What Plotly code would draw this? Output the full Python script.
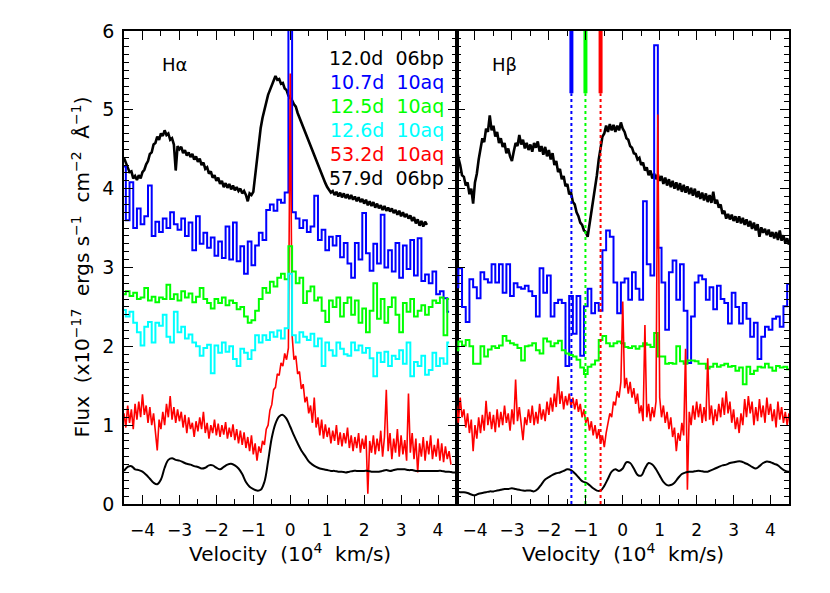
import numpy as np
import plotly.graph_objects as go

# ---------------- data (velocity in 1e4 km/s, flux in 1e-17 erg/s/cm2/A) ----------------
# Left panel: H-alpha
ha_start_fine, ha_step_fine = -4.50, 0.05
ha_start_bin, ha_step_bin = -4.5, 0.1

ha_06bp_12d = [
    4.39, 4.33, 4.28, 4.21, 4.22, 4.13, 4.16, 4.11, 4.17, 4.13,
    4.21, 4.24, 4.31, 4.35, 4.44, 4.46, 4.56, 4.58, 4.66, 4.62,
    4.70, 4.67, 4.74, 4.68, 4.70, 4.62, 4.64, 4.56, 4.23, 4.54,
    4.50, 4.53, 4.45, 4.49, 4.42, 4.46, 4.40, 4.44, 4.37, 4.41,
    4.34, 4.38, 4.30, 4.33, 4.25, 4.27, 4.19, 4.22, 4.14, 4.17,
    4.10, 4.14, 4.06, 4.10, 4.02, 4.07, 4.01, 4.06, 3.99, 4.04,
    3.98, 4.02, 3.97, 4.00, 3.94, 3.97, 3.92, 3.84, 3.94, 3.92,
    3.96, 4.17, 4.41, 4.61, 4.77, 4.90, 5.00, 5.10, 5.19, 5.25,
    5.32, 5.36, 5.43, 5.38, 5.39, 5.33, 5.34, 5.27, 5.25, 5.18,
    5.15, 5.12, 5.07, 5.04, 4.96, 4.90, 4.83, 4.78, 4.72, 4.67,
    4.60, 4.55, 4.48, 4.42, 4.35, 4.30, 4.23, 4.17, 4.11, 4.07,
    4.02, 3.99, 3.95, 3.97, 3.92, 3.96, 3.90, 3.95, 3.89, 3.94,
    3.88, 3.93, 3.87, 3.92, 3.86, 3.90, 3.84, 3.89, 3.83, 3.87,
    3.81, 3.86, 3.79, 3.84, 3.78, 3.83, 3.76, 3.81, 3.75, 3.79,
    3.73, 3.78, 3.72, 3.76, 3.71, 3.75, 3.69, 3.73, 3.67, 3.72,
    3.65, 3.70, 3.64, 3.68, 3.62, 3.66, 3.59, 3.64, 3.56, 3.61,
    3.53, 3.59, 3.52, 3.58, 3.54,
]
ha_10aq_107d = [
    4.28, 3.60, 4.08, 3.50, 3.75, 3.55, 3.65, 4.04, 3.40, 3.58,
    3.45, 3.62, 3.50, 3.70, 3.55, 3.48, 3.62, 3.40, 3.57, 3.22,
    3.65, 3.30, 3.44, 3.25, 3.38, 3.15, 3.33, 3.12, 3.52, 3.10,
    3.57, 3.08, 3.27, 2.92, 3.33, 3.03, 3.28, 3.44, 3.35, 3.73,
    3.80, 3.72, 3.86, 3.82, 3.95, 6.30, 3.70, 3.62, 3.50, 3.60,
    3.45, 3.52, 3.91, 3.35, 3.48, 3.22, 3.39, 3.28, 3.40, 3.13,
    3.31, 3.05, 2.87, 3.31, 3.10, 3.69, 3.18, 2.96, 3.30, 3.05,
    3.67, 3.00, 3.22, 2.95, 3.31, 2.87, 3.28, 2.98, 3.35, 2.90,
    3.37, 2.83, 2.91, 2.80, 2.95, 2.66, 2.70, 2.61, 2.44,
]
ha_10aq_125d = [
    2.66, 2.70, 2.64, 2.68, 2.60, 2.62, 2.74, 2.58, 2.63, 2.56,
    2.62, 2.60, 2.78, 2.60, 2.66, 2.58, 2.70, 2.62, 2.67, 2.56,
    2.63, 2.74, 2.60, 2.55, 2.48, 2.60, 2.55, 2.62, 2.52, 2.58,
    2.55, 2.47, 2.50, 2.38, 2.30, 2.33, 2.45, 2.60, 2.74, 2.68,
    2.82, 2.76, 2.87, 2.92, 2.85, 3.27, 2.95, 2.80, 2.87, 2.55,
    2.70, 2.76, 2.58, 2.62, 2.45, 2.31, 2.58, 2.50, 2.62, 2.38,
    2.55, 2.62, 2.40, 2.58, 2.30, 2.48, 2.18, 2.45, 2.80, 2.35,
    2.60, 2.30, 2.50, 2.62, 2.40, 2.18, 2.55, 2.44, 2.60, 2.38,
    2.45, 2.52, 2.40, 2.50, 2.58, 2.55, 2.62, 2.14, 2.60,
]
ha_10aq_126d = [
    2.46, 2.38, 2.44, 2.30, 2.18, 2.01, 2.25, 2.31, 2.05, 2.30,
    2.26, 2.40, 2.12, 2.05, 2.44, 2.18, 2.25, 2.10, 2.15, 2.05,
    2.00, 1.88, 1.98, 2.02, 1.66, 2.01, 1.92, 2.05, 1.93, 2.00,
    1.84, 1.75, 1.97, 1.92, 1.84, 1.95, 2.14, 2.05, 2.14, 2.08,
    2.18, 2.12, 2.20, 2.10, 2.23, 2.92, 2.14, 2.05, 2.18, 2.12,
    2.08, 2.16, 2.00, 2.10, 1.75, 2.05, 1.95, 1.88, 2.05, 1.97,
    1.90, 1.88, 2.05, 1.95, 2.01, 1.92, 1.98, 1.85, 1.62, 1.92,
    1.80, 1.93, 1.75, 1.88, 1.84, 1.95, 1.78, 2.05, 1.62, 1.80,
    1.75, 1.88, 1.64, 1.70, 1.92, 1.75, 1.85, 1.78, 2.05,
]
ha_10aq_532d = [
    1.15, 0.97, 1.25, 1.03, 1.20, 0.95, 1.27, 1.07, 1.30, 1.10,
    1.39, 1.13, 1.25, 1.03, 1.23, 1.00, 1.15, 0.93, 0.68, 1.07,
    0.95, 1.17, 1.00, 1.27, 1.10, 1.37, 1.07, 1.23, 1.03, 1.20,
    1.05, 1.17, 0.97, 1.13, 0.90, 1.10, 0.95, 1.03, 0.85, 1.05,
    0.92, 1.10, 0.95, 1.17, 0.90, 1.03, 0.83, 1.00, 0.90, 1.07,
    0.87, 1.02, 0.85, 1.00, 0.88, 1.04, 0.83, 0.97, 0.85, 1.01,
    0.81, 0.95, 0.77, 0.93, 0.75, 0.91, 0.71, 0.85, 0.67, 0.87,
    0.63, 0.77, 0.55, 0.73, 0.65, 0.80, 0.75, 0.95, 1.00, 1.19,
    1.26, 1.45, 1.48, 1.65, 1.63, 1.79, 1.75, 1.91, 1.83, 1.98,
    5.46, 2.14, 1.83, 1.88, 1.65, 1.68, 1.46, 1.52, 1.29, 1.36,
    1.15, 1.25, 1.03, 1.35, 0.97, 1.10, 0.87, 1.07, 0.83, 1.01,
    0.85, 0.97, 0.77, 0.93, 0.80, 1.00, 0.75, 0.91, 0.73, 0.90,
    0.77, 0.97, 0.71, 0.87, 0.67, 0.85, 0.71, 0.90, 0.65, 0.83,
    0.70, 0.87, 0.13, 0.80, 0.65, 0.87, 0.63, 0.83, 0.67, 0.93,
    0.60, 0.85, 1.45, 0.67, 0.90, 0.57, 0.83, 0.65, 0.95, 0.60,
    0.87, 0.63, 0.81, 0.55, 1.40, 0.65, 0.90, 0.57, 0.83, 0.40,
    0.77, 0.60, 0.85, 0.55, 0.80, 0.63, 0.87, 0.57, 0.75, 0.60,
    0.83, 0.55, 0.77, 0.53, 0.73, 0.57, 0.67, 0.50,
]
ha_06bp_579d = [
    0.42, 0.47, 0.48, 0.44, 0.43, 0.41, 0.37, 0.32, 0.27, 0.25,
    0.31, 0.46, 0.56, 0.58, 0.56, 0.55, 0.53, 0.51, 0.50, 0.48,
    0.47, 0.45, 0.46, 0.49, 0.49, 0.46, 0.44, 0.47, 0.50, 0.51,
    0.49, 0.45, 0.38, 0.28, 0.22, 0.19, 0.17, 0.18, 0.28, 0.54,
    0.84, 1.02, 1.11, 1.13, 1.08, 0.98, 0.87, 0.77, 0.68, 0.61,
    0.54, 0.50, 0.47, 0.45, 0.44, 0.43, 0.42, 0.42, 0.41, 0.41,
    0.40, 0.41, 0.42, 0.42, 0.42, 0.42, 0.42, 0.41, 0.41, 0.41,
    0.42, 0.43, 0.42, 0.43, 0.44, 0.44, 0.44, 0.43, 0.43, 0.42,
    0.42, 0.42, 0.42, 0.42, 0.42, 0.42, 0.42, 0.41, 0.41, 0.40,
    0.40,
]

# Right panel: H-beta
hb_06bp_12d = [
    4.56, 4.39, 4.30, 4.17, 4.15, 4.04, 4.08, 3.93, 4.00, 3.81,
    4.08, 4.19, 4.37, 4.49, 4.64, 4.59, 4.76, 4.72, 4.93, 4.74,
    4.80, 4.66, 4.72, 4.58, 4.64, 4.53, 4.58, 4.45, 4.51, 4.41,
    4.35, 4.47, 4.58, 4.54, 4.68, 4.56, 4.62, 4.51, 4.58, 4.49,
    4.56, 4.47, 4.58, 4.52, 4.60, 4.47, 4.54, 4.43, 4.53, 4.41,
    4.49, 4.37, 4.45, 4.30, 4.35, 4.21, 4.25, 4.12, 4.16, 4.03,
    4.06, 3.93, 3.95, 3.83, 3.80, 3.70, 3.65, 3.57, 3.54, 3.47,
    3.45, 3.39, 3.54, 3.67, 3.83, 4.00, 4.17, 4.37, 4.52, 4.66,
    4.70, 4.80, 4.72, 4.82, 4.74, 4.81, 4.72, 4.80, 4.74, 4.84,
    4.76, 4.72, 4.64, 4.62, 4.54, 4.52, 4.45, 4.44, 4.37, 4.39,
    4.30, 4.33, 4.23, 4.27, 4.17, 4.23, 4.13, 4.19, 4.12, 4.18,
    4.10, 4.16, 4.06, 4.14, 4.04, 4.12, 4.02, 4.10, 4.00, 4.08,
    3.98, 4.07, 3.96, 4.05, 3.95, 4.03, 3.93, 4.01, 3.91, 4.00,
    3.89, 3.97, 3.87, 3.95, 3.85, 3.94, 3.83, 3.92, 3.82, 3.96,
    3.81, 3.86, 3.76, 3.80, 3.68, 3.72, 3.62, 3.68, 3.61, 3.67,
    3.59, 3.65, 3.57, 3.65, 3.56, 3.63, 3.54, 3.61, 3.52, 3.59,
    3.49, 3.57, 3.47, 3.55, 3.39, 3.51, 3.44, 3.49, 3.41, 3.48,
    3.39, 3.45, 3.37, 3.45, 3.35, 3.47, 3.34, 3.41, 3.31, 3.37,
    3.29,
]
hb_10aq_107d = [
    2.75, 2.99, 2.50, 2.31, 2.85, 2.75, 2.61, 2.94, 2.85, 2.81,
    3.04, 2.81, 3.04, 2.68, 3.04, 2.64, 2.80, 2.75, 2.73, 2.77,
    2.70, 2.64, 2.38, 2.99, 2.68, 2.90, 2.38, 2.55, 2.59, 2.55,
    1.75, 2.64, 2.16, 2.64, 1.88, 2.51, 2.73, 2.42, 2.55, 2.45,
    3.22, 3.47, 3.39, 2.81, 2.42, 2.81, 2.86, 2.59, 2.94, 2.73,
    2.59, 3.84, 3.04, 2.90, 5.82, 3.25, 2.81, 2.21, 2.94, 3.09,
    2.59, 3.04, 2.45, 1.79, 2.38, 2.81, 2.90, 2.85, 2.59, 2.75,
    2.47, 2.77, 2.60, 2.55, 2.29, 2.68, 2.50, 2.29, 2.55, 2.35,
    2.12, 2.30, 1.84, 2.12, 2.25, 2.21, 2.35, 2.38, 2.25, 2.51,
    2.79,
]
hb_10aq_125d = [
    1.95, 2.06, 2.01, 2.08, 2.00, 1.78, 1.78, 2.00, 1.87, 1.96,
    2.00, 1.98, 2.01, 2.13, 2.07, 2.04, 2.02, 1.98, 1.82, 2.00,
    2.01, 2.04, 1.95, 1.91, 2.10, 2.06, 2.00, 2.04, 2.07, 1.95,
    1.91, 1.89, 1.87, 1.83, 1.73, 1.65, 1.74, 1.77, 1.82, 2.08,
    2.13, 2.04, 2.00, 2.04, 2.06, 2.04, 1.99, 1.98, 2.00, 1.97,
    2.00, 2.04, 2.02, 1.99, 2.17, 1.87, 1.87, 1.78, 1.79, 1.78,
    2.00, 1.81, 1.78, 1.82, 1.82, 1.81, 1.78, 1.78, 1.72, 1.74,
    1.78, 1.74, 1.76, 1.78, 1.74, 1.75, 1.69, 1.73, 1.52, 1.74,
    1.65, 1.69, 1.74, 1.73, 1.78, 1.73, 1.69, 1.75, 1.73, 1.74,
    1.71,
]
hb_10aq_532d = [
    1.25, 1.03, 1.35, 1.10, 1.20, 0.97, 1.15, 0.90, 1.07, 0.67,
    1.00, 0.83, 1.10, 0.90, 1.13, 0.93, 1.31, 1.00, 1.17, 0.95,
    1.13, 0.91, 1.20, 0.97, 1.17, 1.00, 1.25, 1.03, 1.15, 0.93,
    1.20, 1.01, 1.58, 1.05, 1.23, 0.97, 0.81, 1.10, 1.00, 1.20,
    1.03, 1.25, 1.00, 1.17, 1.02, 1.27, 1.07, 1.20, 1.05, 1.30,
    1.13, 1.35, 1.17, 1.40, 1.23, 1.62, 1.27, 1.43, 1.20, 1.37,
    1.25, 1.40, 1.23, 1.35, 1.20, 1.33, 1.17, 1.27, 1.10, 1.20,
    1.03, 1.10, 0.93, 1.05, 0.87, 1.00, 0.83, 0.95, 0.77, 0.87,
    0.72, 0.90, 1.03, 1.15, 1.10, 1.30, 1.25, 1.43, 1.35, 1.55,
    2.57, 1.47, 1.60, 1.40, 1.55, 1.35, 1.47, 1.27, 1.40, 1.15,
    1.25, 1.05, 2.27, 1.10, 1.27, 1.05, 1.23, 1.10, 1.30, 4.94,
    1.35, 1.10, 1.25, 1.03, 1.17, 0.95, 1.10, 0.85, 0.97, 0.67,
    0.90, 0.80, 1.03, 0.87, 1.97, 0.18, 1.17, 1.00, 1.25, 1.07,
    1.30, 1.10, 1.27, 1.03, 1.23, 1.05, 1.85, 1.07, 1.25, 1.00,
    1.20, 1.05, 1.27, 1.10, 1.35, 1.13, 1.43, 1.15, 1.30, 1.03,
    1.20, 0.95, 1.10, 0.90, 1.15, 1.00, 1.33, 1.10, 1.37, 1.15,
    1.30, 1.00, 1.23, 1.05, 1.33, 1.10, 1.25, 1.03, 1.35, 1.13,
    1.27, 1.05, 1.20, 0.97, 1.30, 1.07, 1.23, 1.03, 1.17, 1.00,
    1.15,
]
hb_06bp_579d = [
    0.16, 0.15, 0.15, 0.14, 0.12, 0.11, 0.13, 0.14, 0.15, 0.16,
    0.16, 0.17, 0.18, 0.19, 0.19, 0.20, 0.19, 0.18, 0.17, 0.17,
    0.17, 0.16, 0.19, 0.25, 0.31, 0.34, 0.37, 0.39, 0.40, 0.42,
    0.44, 0.43, 0.39, 0.34, 0.29, 0.27, 0.24, 0.20, 0.17, 0.17,
    0.23, 0.32, 0.41, 0.44, 0.42, 0.45, 0.53, 0.52, 0.45, 0.37,
    0.36, 0.45, 0.52, 0.50, 0.44, 0.36, 0.28, 0.24, 0.24, 0.27,
    0.33, 0.38, 0.40, 0.41, 0.41, 0.42, 0.42, 0.41, 0.41, 0.43,
    0.45, 0.47, 0.49, 0.50, 0.52, 0.53, 0.54, 0.54, 0.52, 0.50,
    0.47, 0.45, 0.48, 0.52, 0.54, 0.53, 0.51, 0.49, 0.45, 0.42,
    0.41,
]

# absorption velocity markers in H-beta panel
marker_vel = [-1.39, -1.01, -0.60]
marker_colors = ["#0000ff", "#00ff00", "#ff0000"]
marker_top = 6.0
marker_bar_bottom = 5.21

legend_labels = ["12.0d\u00a0 06bp", "10.7d\u00a0 10aq", "12.5d\u00a0 10aq",
                 "12.6d\u00a0 10aq", "53.2d\u00a0 10aq", "57.9d\u00a0 06bp"]
legend_colors = ["#000000", "#0000ff", "#00ff00", "#00ffff", "#ff0000", "#000000"]

x_ticks = [-4, -3, -2, -1, 0, 1, 2, 3, 4]
y_ticks = [0, 1, 2, 3, 4, 5, 6]

# ---------------- figure ----------------
def grid(start, step, n):
    return np.round(start + step * np.arange(n), 3)

FONT = "DejaVu Sans"
fig = go.Figure()

def add(y, start, step, color, width, xa, ya, shape="linear"):
    fig.add_trace(go.Scatter(
        x=grid(start, step, len(y)), y=y, mode="lines",
        line=dict(color=color, width=width, shape=shape),
        xaxis=xa, yaxis=ya, showlegend=False, hoverinfo="skip"))

# left panel (H alpha)
add(ha_06bp_12d, ha_start_fine, ha_step_fine, "#000000", 2.6, "x", "y")
add(ha_10aq_107d, ha_start_bin, ha_step_bin, "#0000ff", 2.0, "x", "y", "hvh")
add(ha_10aq_532d, ha_start_fine, ha_step_fine, "#ff0000", 1.6, "x", "y")
add(ha_10aq_125d, ha_start_bin, ha_step_bin, "#00ff00", 2.0, "x", "y", "hvh")
add(ha_10aq_126d, ha_start_bin, ha_step_bin, "#00ffff", 2.0, "x", "y", "hvh")
add(ha_06bp_579d, ha_start_bin, ha_step_bin, "#000000", 2.0, "x", "y", "spline")

# right panel (H beta)
add(hb_06bp_12d, ha_start_fine, ha_step_fine, "#000000", 2.6, "x2", "y2")
add(hb_10aq_107d, ha_start_bin, ha_step_bin, "#0000ff", 2.0, "x2", "y2", "hvh")
add(hb_10aq_125d, ha_start_bin, ha_step_bin, "#00ff00", 2.0, "x2", "y2", "hvh")
add(hb_10aq_532d, ha_start_fine, ha_step_fine, "#ff0000", 1.6, "x2", "y2")
add(hb_06bp_579d, ha_start_bin, ha_step_bin, "#000000", 2.0, "x2", "y2", "spline")

for v, c in zip(marker_vel, marker_colors):
    fig.add_trace(go.Scatter(x=[v, v], y=[0, marker_bar_bottom], mode="lines",
                             line=dict(color=c, width=2, dash="dot"),
                             xaxis="x2", yaxis="y2", showlegend=False, hoverinfo="skip"))
    fig.add_trace(go.Scatter(x=[v, v], y=[marker_bar_bottom, marker_top], mode="lines",
                             line=dict(color=c, width=4),
                             xaxis="x2", yaxis="y2", showlegend=False, hoverinfo="skip"))

axis_common = dict(showline=True, linecolor="black", linewidth=1.5, mirror="allticks",
                   ticks="inside", tickcolor="black", tickwidth=1.3, showgrid=False,
                   zeroline=False)

xa = dict(axis_common, range=[-4.5, 4.5], tickvals=x_ticks, ticklen=9,
          tickfont=dict(family=FONT, size=17, color="black"),
          minor=dict(dtick=0.5, tick0=0, ticks="inside", ticklen=5, tickwidth=1.3,
                     tickcolor="black", showgrid=False),
          ticklabelstandoff=10)
ya = dict(axis_common, range=[0, 6], tickvals=y_ticks, ticklen=9,
          tickfont=dict(family=FONT, size=19, color="black"),
          minor=dict(dtick=0.1, tick0=0, ticks="inside", ticklen=5, tickwidth=1.3,
                     tickcolor="black", showgrid=False),
          ticklabelstandoff=4)

# page body has an 8px margin, so the figure is 8px smaller than the window
fig.update_layout(
    width=822, height=585,
    margin=dict(l=116, r=41, t=21, b=89),
    paper_bgcolor="white", plot_bgcolor="white",
    font=dict(family=FONT, color="black"),
    xaxis=dict(xa, domain=[0, 0.5], anchor="y"),
    xaxis2=dict(xa, domain=[0.5, 1], anchor="y2"),
    yaxis=dict(ya, domain=[0, 1], anchor="x"),
    yaxis2=dict(ya, domain=[0, 1], anchor="x2", showticklabels=False),
)

NB = "\u00a0"
xtitle = "Velocity" + NB + " (10<sup>4</sup>" + NB + " km/s)"
ytitle = ("Flux" + NB + " (x10<sup>\u221217</sup>" + NB + " ergs s<sup>\u22121</sup>" + NB +
          " cm<sup>\u22122</sup>" + NB + " \u00c5<sup>\u22121</sup>)")
ann = []
for cx in (0.25, 0.75):
    ann.append(dict(text=xtitle, x=cx, y=-0.103, xref="paper", yref="paper",
                    showarrow=False, xanchor="center", yanchor="middle",
                    font=dict(family=FONT, size=20, color="black")))
ann.append(dict(text=ytitle, x=-0.066, y=0.5, xref="paper", yref="paper", textangle=-90,
                showarrow=False, xanchor="center", yanchor="middle",
                font=dict(family=FONT, size=20, color="black")))
ann.append(dict(text="H\u03b1", x=(174 - 124) / 665, y=(504 - 63) / 475, xref="paper", yref="paper",
                showarrow=False, xanchor="center", yanchor="middle",
                font=dict(family=FONT, size=18, color="black")))
ann.append(dict(text="H\u03b2", x=(505 - 124) / 665, y=(504 - 63) / 475, xref="paper", yref="paper",
                showarrow=False, xanchor="center", yanchor="middle",
                font=dict(family=FONT, size=18, color="black")))
for i, (lab, col) in enumerate(zip(legend_labels, legend_colors)):
    ann.append(dict(text=lab, x=(446 - 124) / 665, y=(504 - (55.7 + 24.2 * i)) / 475,
                    xref="paper", yref="paper", showarrow=False,
                    xanchor="right", yanchor="middle",
                    font=dict(family=FONT, size=19, color=col)))
fig.update_layout(annotations=ann)

fig.write_html("out.html", config={"displayModeBar": False})
